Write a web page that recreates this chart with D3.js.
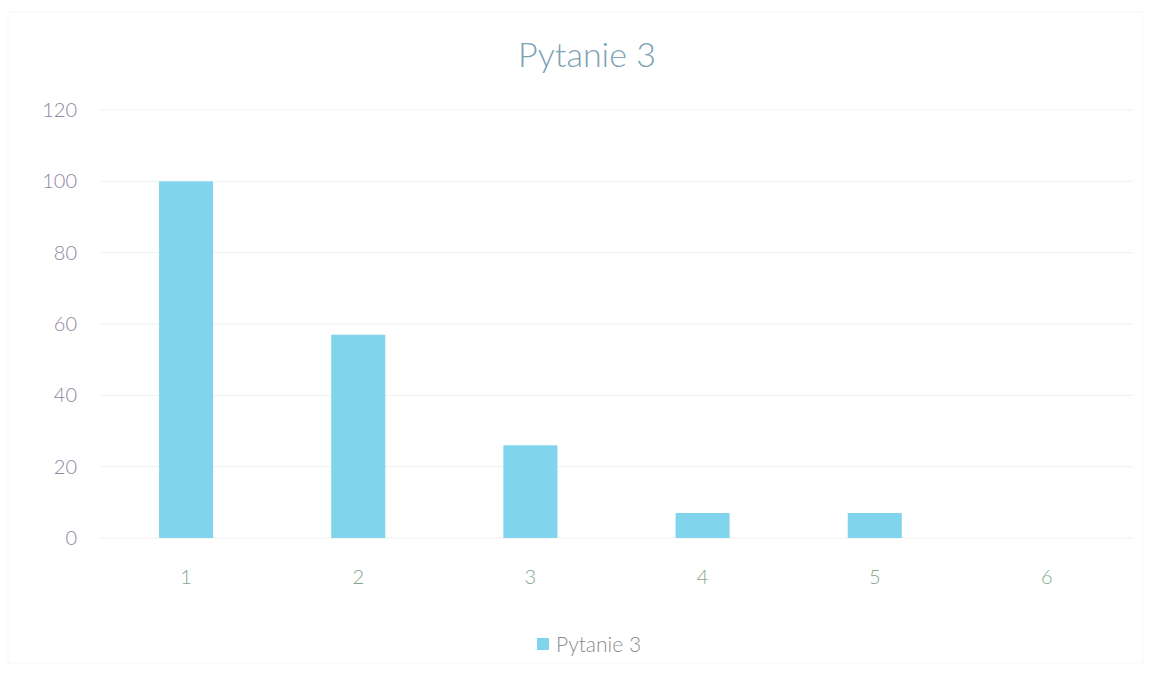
<!DOCTYPE html>
<html><head><meta charset="utf-8">
<script src="https://cdn.jsdelivr.net/npm/d3@7"></script>
<style>body{margin:0;background:#fff}svg{display:block}</style>
</head><body><svg id="c" width="1151" height="675"></svg>
<script>
const categories = ["1","2","3","4","5","6"];
const values = [100, 57, 26, 7, 7, 0];
const yTicks = [0,20,40,60,80,100,120];
const seriesName = "Pytanie 3";
const title = "Pytanie 3";

const svg = d3.select("#c");
const W = 1151, H = 675;
const m = {left:100, right:18, top:110, bottom:137};
const font = "Lato, 'Open Sans', sans-serif";

svg.append("rect").attr("x",8).attr("y",12).attr("width",W-16).attr("height",H-24)
  .attr("fill","#fff").attr("stroke","#f7f7f7");

const x = d3.scaleBand().domain(categories).range([m.left, W-m.right]).paddingInner(0.686).paddingOuter(0.343);
const y = d3.scaleLinear().domain([0,120]).range([H-m.bottom, m.top]);

// gridlines
svg.append("g").selectAll("line").data(yTicks).join("line")
  .attr("x1", m.left).attr("x2", W-m.right)
  .attr("y1", d=>y(d)).attr("y2", d=>y(d))
  .attr("stroke","#f0f0f0").attr("stroke-width",1);

// y axis
const ya = svg.append("g").attr("transform",`translate(${m.left},0)`)
  .call(d3.axisLeft(y).tickValues(yTicks).tickSize(0).tickPadding(23));
ya.select(".domain").remove();
ya.selectAll("text").attr("font-family",font).attr("font-size",20).attr("font-weight",300).attr("fill","#8f86a0");

// bars
svg.append("g").selectAll("rect").data(values).join("rect")
  .attr("x",(d,i)=>x(categories[i])).attr("width",x.bandwidth())
  .attr("y",d=>y(d)).attr("height",d=>y(0)-y(d))
  .attr("fill","#80d5ec");

// x axis
const xa = svg.append("g").attr("transform",`translate(0,${y(0)})`)
  .call(d3.axisBottom(x).tickSize(0).tickPadding(32));
xa.select(".domain").remove();
xa.selectAll("text").attr("font-family",font).attr("font-size",20).attr("font-weight",300).attr("fill","#7fa88a");

// title
svg.append("text").attr("x",587).attr("y",67).attr("text-anchor","middle")
  .attr("font-family",font).attr("font-size",34).attr("font-weight",300).attr("fill","#7ba2b4").text(title);

// legend
const lg = svg.append("g");
lg.append("rect").attr("x",537).attr("y",638).attr("width",12).attr("height",12).attr("fill","#80d5ec");
lg.append("text").attr("x",556).attr("y",652).attr("font-family",font).attr("font-size",21).attr("font-weight",300)
  .attr("fill","#8c8c8c").text(seriesName);
</script></body></html>
